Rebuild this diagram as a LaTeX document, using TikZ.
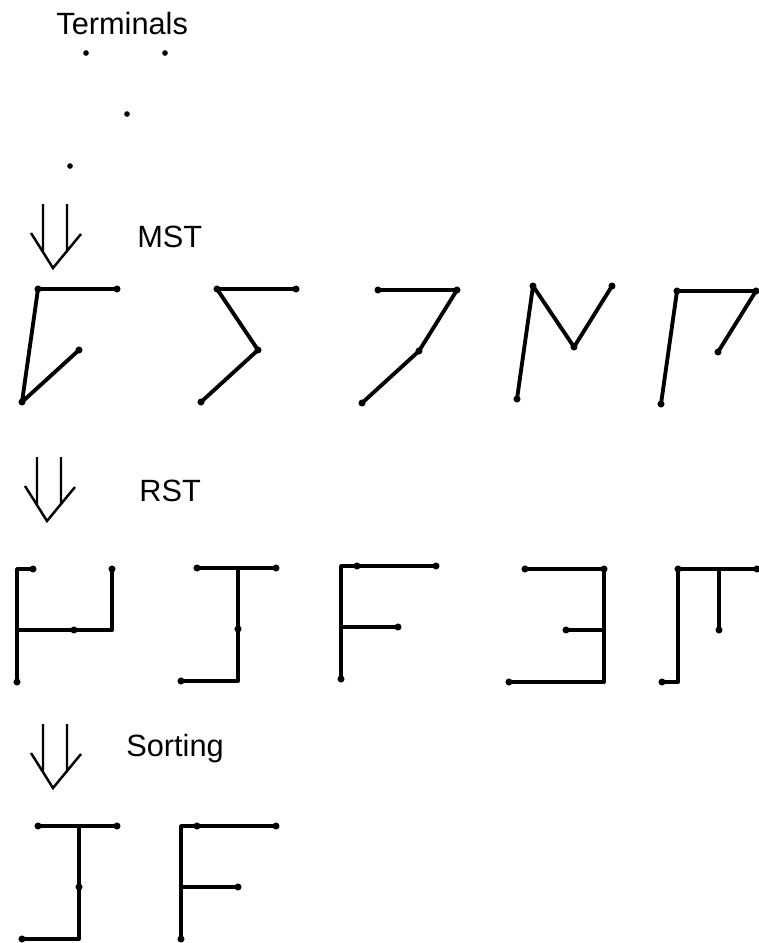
\documentclass[tikz,border=0pt]{standalone}
\usepackage{fontspec}
\setmainfont{Liberation Sans}
\tikzset{>=latex}
\tikzset{edge/.style={line width=2.2pt, line cap=round, line join=round}}
\tikzset{thin arrow/.style={line width=1.4pt, line join=miter}}
\tikzset{lbl/.style={inner sep=0pt, anchor=base west, font=\fontsize{17.5}{20}\selectfont}}
\newcommand{\terms}[3][2pt]{
	\begin{scope}[shift={(#2,#3)}]
		\coordinate (A) at (0,0);
		\coordinate (B) at (79,0);
		\coordinate (C) at (41,61);
		\coordinate (D) at (-16,113);
	\end{scope}
	\foreach \p in {A,B,C,D}\fill (\p) circle (#1);
}
\newcommand{\downTo}[2]{
	\begin{scope}[shift={(#1,#2)}]
		\draw[thin arrow](-10,-64)--(-10,-17) (14,-64)--(14,-17) (-22,-35)--(0,0)--(28,-34);
	\end{scope}
}

\begin{document}
\begin{tikzpicture}[x=0.02cm, y=-0.02cm]
    \useasboundingbox (0,0) rectangle (759,943);
    \terms[1.6pt]{86}{53}
    \node[lbl] (terminals) at (56,34) {Terminals};
    \downTo{53}{268}
    \node[lbl] (mst) at (137,247) {MST};
    \terms{38}{289}
    \draw[edge] (B)--(A)--(D)--(C);
    \terms{217}{289}
    \draw[edge] (B)--(A)--(C)--(D);
    \terms{378}{290}
    \draw[edge] (A)--(B)--(C)--(D);
    \terms{533}{286}
    \draw[edge] (D)--(A)--(C)--(B);
    \terms{677}{291}
    \draw[edge] (D)--(A)--(B)--(C);
    \downTo{47}{521}
    \node[lbl] (rst) at (139,501) {RST};
    \terms{33}{569}
    \draw[edge] (A)-|(D) (D|-C)-|(B);
    \terms{197}{568}
    \draw[edge] (A)--(B) (C|-A)|-(D);
    \terms{357}{566}
    \draw[edge] (B)-|(D) (C)--(D|-C);
    \terms{525}{569}
    \draw[edge] (A)--(B)|-(D) (C)--(B|-C);
    \terms{678}{569}
    \draw[edge] (B)--(A)|-(D) (C|-A)--(C);
    \downTo{53}{788}
    \node[lbl] (sorting) at (126,756) {Sorting};
    \terms{38}{826}
    \draw[edge] (A)--(B) (C|-A)|-(D);
    \terms{197}{826}
    \draw[edge] (B)-|(D) (C)--(D|-C);
\end{tikzpicture}
\end{document}
